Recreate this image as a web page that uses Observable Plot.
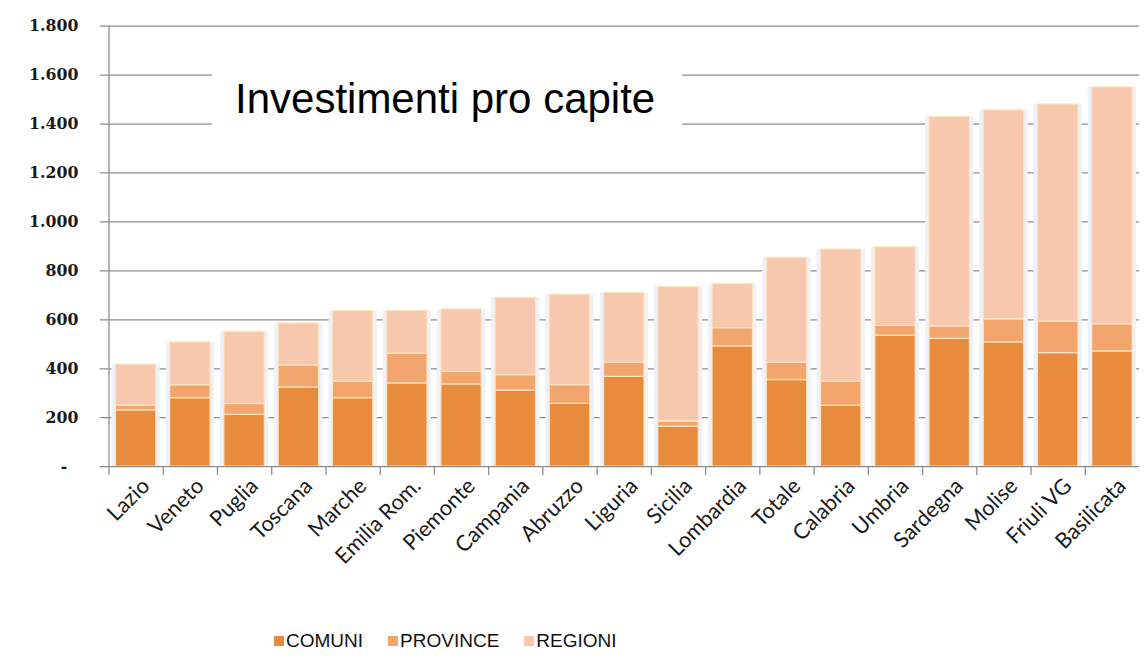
<!DOCTYPE html>
<html><head><meta charset="utf-8">
<script src="https://cdn.jsdelivr.net/npm/d3@7"></script>
<script src="https://cdn.jsdelivr.net/npm/@observablehq/plot@0.6"></script>
<style>
html,body{margin:0;padding:0;background:#fff;overflow:hidden;width:1144px;height:656px}
#wrap{position:relative;width:1144px;height:656px;overflow:hidden}
#chart{position:absolute;left:0;top:0}
#title{position:absolute;left:212px;top:64px;width:470px;height:70px;background:#fff;font-family:"Liberation Sans",Arial,sans-serif;font-size:42px;line-height:70px;color:#000;padding-left:23px;box-sizing:border-box;white-space:nowrap}
#legend{position:absolute;left:274px;top:630px;display:flex;align-items:center;font-family:"Liberation Sans Narrow","Liberation Sans",sans-serif;font-size:19px;color:#111;line-height:22px}
#legend .item{display:flex;align-items:center;margin-right:25px}
#legend .sw{width:10px;height:10px;margin-right:2px}
</style></head>
<body>
<div id="wrap">
  <div id="chart"></div>
  <div id="title">Investimenti pro capite</div>
  <div id="legend"></div>
</div>
<script>
const regions = ["Lazio","Veneto","Puglia","Toscana","Marche","Emilia Rom.","Piemonte","Campania","Abruzzo","Liguria","Sicilia","Lombardia","Totale","Calabria","Umbria","Sardegna","Molise","Friuli VG","Basilicata"];
const comuni   = [230,280,212,324,280,340,336,311,257,367,163,492,354,249,535,522,508,464,471];
const province = [ 20, 53, 44, 90, 67,121, 51, 63, 76, 58, 22, 74, 71, 98, 40, 51, 94,129,111];
const regioni  = [167,175,295,171,289,175,256,316,370,285,549,181,429,540,322,856,854,887,968];
const seriesNames = ["COMUNI","PROVINCE","REGIONI"];
const seriesColors = ["#E88B3D","#F3A56E","#F7C8AD"];
const yTicks = [0,200,400,600,800,1000,1200,1400,1600,1800];

const seriesValues = [comuni, province, regioni];
const long = [];
regions.forEach((r, i) => seriesNames.forEach((s, k) => long.push({region: r, series: s, value: seriesValues[k][i]})));
const totals = regions.map((r, i) => ({region: r, total: comuni[i] + province[i] + regioni[i]}));

const W = 1160, mL = 110, mR = 5, H = 615, mT = 26, mB = 142.3;
const step = (W - mL - mR) / regions.length;
const grey = "#8c8c8c";
const fmt = d => d === 0 ? "-\u00a0\u00a0" : d3.format(",")(d).replace(",", ".");

const chart = Plot.plot({
  width: W, height: H, marginLeft: mL, marginRight: mR, marginTop: mT, marginBottom: mB,
  x: {domain: regions, paddingInner: 0.25, paddingOuter: 0.125},
  y: {domain: [0, 1800]},
  color: {domain: seriesNames, range: seriesColors},
  style: {background: "#fff"},
  marks: [
    Plot.ruleY(yTicks.filter(d => d > 0), {y: d => d, stroke: grey, strokeWidth: 1.3, insetLeft: -9}),
    Plot.barY(totals, {x: "region", y: "total", fill: "#eef1f9", insetLeft: -4, insetRight: -4}),
    Plot.barY(long, {x: "region", y: "value", fill: "series", stroke: "#fce6c2", strokeWidth: 1.2, order: seriesNames}),
    Plot.ruleY([0], {y: d => d, stroke: grey, strokeWidth: 1.3, insetLeft: -9}),
    Plot.ruleX([regions[0]], {x: d => d, dx: -step / 2, y1: 1800, y2: 0, stroke: grey, strokeWidth: 1.3, insetBottom: -9}),
    Plot.ruleX(regions.slice(1), {x: d => d, dx: -step / 2, y1: 0, y2: 0, stroke: grey, strokeWidth: 1.3, insetBottom: -9}),
    Plot.axisY({ticks: yTicks, tickFormat: fmt, tickSize: 0, tickPadding: 31, fontSize: 16, fontFamily: "DejaVu Serif", fontWeight: "bold", fill: "#1a1a1a", label: null}),
    Plot.axisX({tickSize: 0, tickRotate: -45, tickPadding: 16, dx: 10, fontSize: 22, fontFamily: "Lato", fill: "#1a1a1a", label: null})
  ]
});
document.getElementById("chart").appendChild(chart);

const legend = document.getElementById("legend");
seriesNames.forEach((s, k) => {
  const it = document.createElement("div"); it.className = "item";
  const sw = document.createElement("div"); sw.className = "sw"; sw.style.background = seriesColors[k];
  const tx = document.createElement("span"); tx.textContent = s;
  it.appendChild(sw); it.appendChild(tx); legend.appendChild(it);
});
</script>
</body></html>
